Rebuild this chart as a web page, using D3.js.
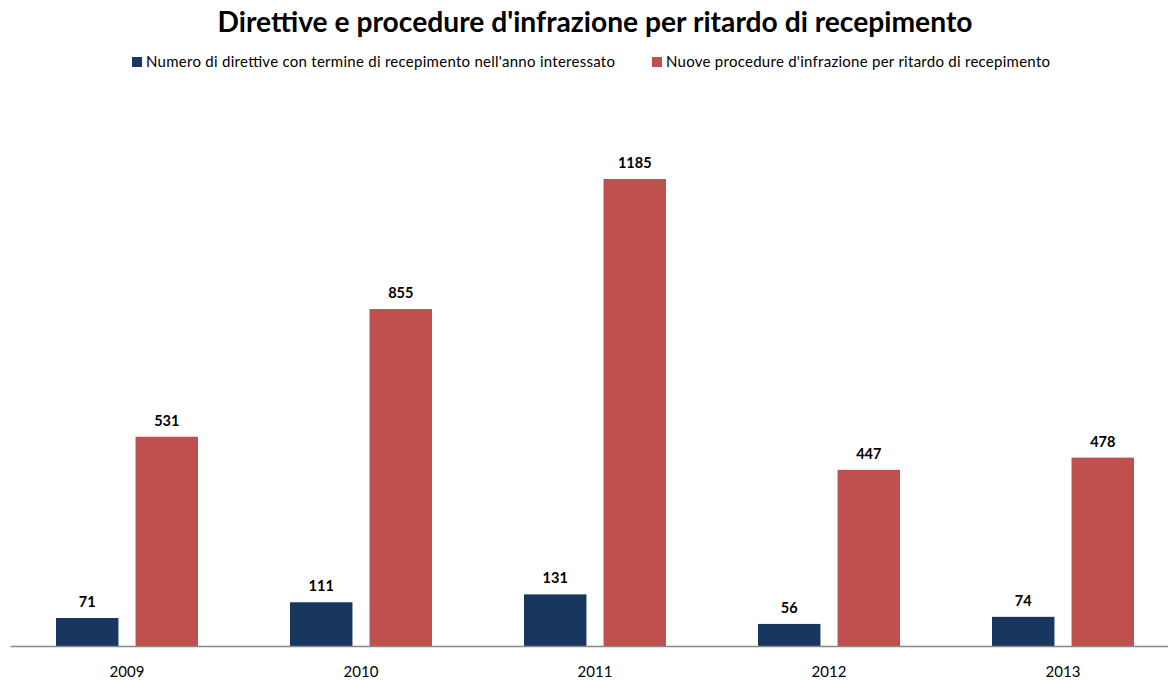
<!DOCTYPE html>
<html><head><meta charset="utf-8">
<script src="https://cdn.jsdelivr.net/npm/d3@7"></script>
<style>body{margin:0;background:#fff}svg{display:block;font-family:Lato,"Open Sans",sans-serif}</style>
</head><body><svg id="c" width="1168" height="680"></svg>
<script>
const years = ["2009","2010","2011","2012","2013"];
const seriesNames = ["Numero di direttive con termine di recepimento nell'anno interessato","Nuove procedure d'infrazione per ritardo di recepimento"];
const direttive = [71,111,131,56,74];
const procedure = [531,855,1185,447,478];
const colors = ["#17375E","#C0504D"];
const title = "Direttive e procedure d'infrazione per ritardo di recepimento";

const svg = d3.select("#c");
const base = 646;
const x = d3.scaleBand().domain(years).range([10,1180]).paddingInner(0).paddingOuter(0);
const x1 = d3.scaleBand().domain([0,1]).range([46, x.bandwidth()-46]).paddingInner(0.215);
const y = d3.scaleLinear().domain([0,1185]).range([base,179]);

svg.append("text").attr("x",595).attr("y",32).attr("text-anchor","middle")
  .attr("font-size",28).attr("font-weight","bold").attr("fill","#000")
  .attr("textLength",755).attr("lengthAdjust","spacingAndGlyphs").text(title);

const leg = [{x:132,tx:146,w:469},{x:652,tx:666,w:384}];
seriesNames.forEach((n,i)=>{
  svg.append("rect").attr("x",leg[i].x).attr("y",57).attr("width",10).attr("height",10).attr("fill",colors[i]);
  svg.append("text").attr("x",leg[i].tx).attr("y",67).attr("font-size",15).attr("fill","#000")
    .attr("textLength",leg[i].w).attr("lengthAdjust","spacing").text(n);
});

const data = years.map((yr,i)=>({yr, vals:[direttive[i],procedure[i]]}));
const g = svg.selectAll("g.cat").data(data).join("g").attr("transform",d=>`translate(${x(d.yr)},0)`);
g.selectAll("rect").data(d=>d.vals.map((v,k)=>({v,k}))).join("rect")
  .attr("x",d=>x1(d.k)).attr("width",x1.bandwidth())
  .attr("y",d=>y(d.v)).attr("height",d=>base-y(d.v)).attr("fill",d=>colors[d.k]);
g.selectAll("text.lbl").data(d=>d.vals.map((v,k)=>({v,k}))).join("text").attr("class","lbl")
  .attr("x",d=>x1(d.k)+x1.bandwidth()/2).attr("y",d=>y(d.v)-11).attr("text-anchor","middle")
  .attr("font-size",14.5).attr("font-weight","bold").attr("fill","#000").text(d=>d.v);

const axis = d3.axisBottom(x).tickSize(0).tickPadding(0);
const ax = svg.append("g").attr("transform",`translate(0,${base})`).call(axis);
ax.select(".domain").attr("stroke","#888").attr("stroke-width",1.5);
ax.selectAll("text").attr("font-size",15).attr("fill","#000").attr("dy",0).attr("y",31).style("font-family","Lato,sans-serif");
</script></body></html>
